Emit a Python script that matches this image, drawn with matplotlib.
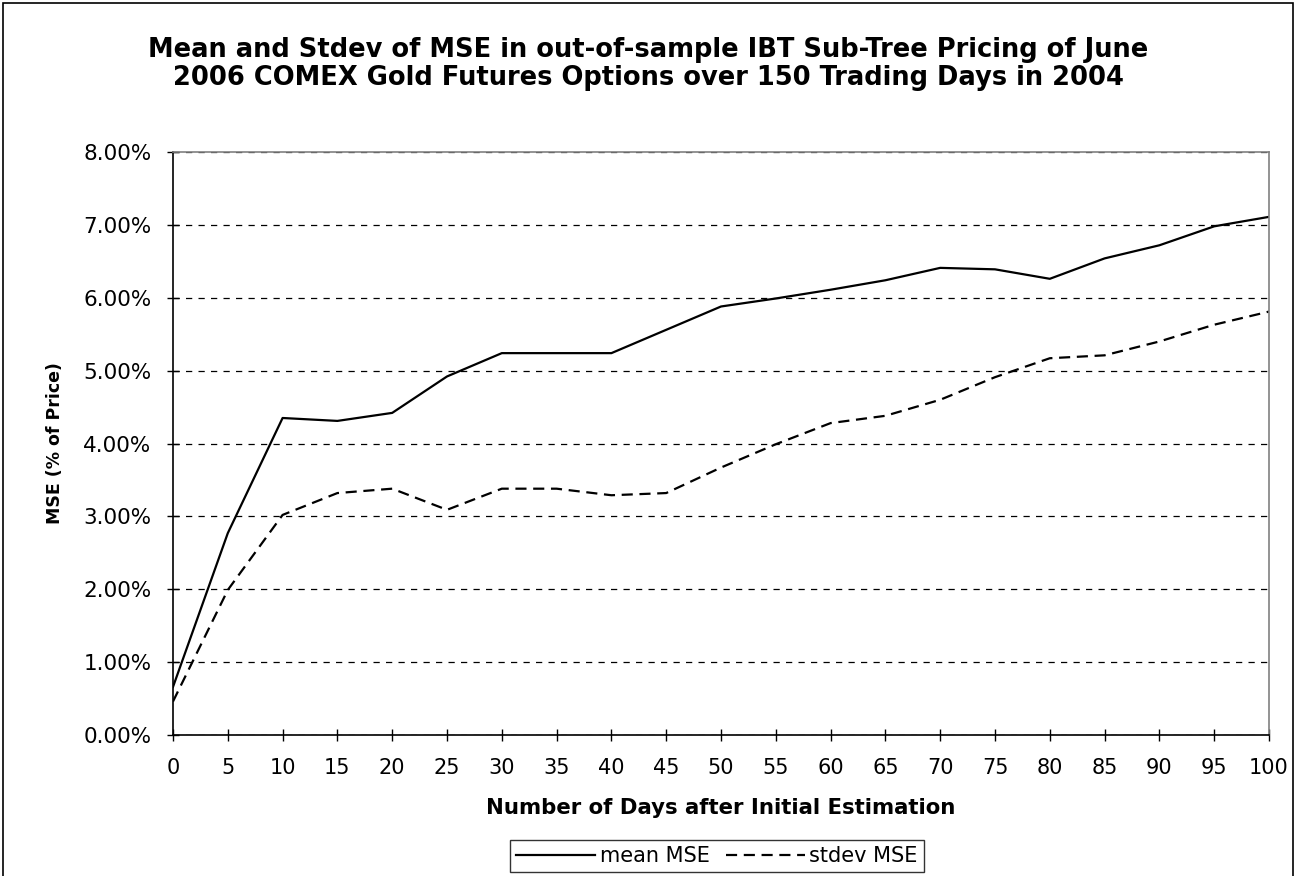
import matplotlib
matplotlib.use("Agg")
import matplotlib.pyplot as plt
from matplotlib.ticker import FuncFormatter, FixedLocator
from matplotlib.patches import Rectangle

plt.rcParams['font.family'] = ['DejaVu Sans']

days = [0, 5, 10, 15, 20, 25, 30, 35, 40, 45, 50, 55, 60, 65, 70, 75, 80, 85, 90, 95, 100]
mean_mse = [0.66, 2.77, 4.35, 4.31, 4.42, 4.92, 5.24, 5.24, 5.24, 5.56, 5.88, 5.99,
            6.11, 6.24, 6.41, 6.39, 6.26, 6.54, 6.72, 6.98, 7.11]
stdev_mse = [0.46, 1.99, 3.02, 3.32, 3.38, 3.09, 3.38, 3.38, 3.29, 3.32, 3.67, 3.99,
             4.28, 4.38, 4.60, 4.91, 5.17, 5.21, 5.40, 5.63, 5.81]
y_ticks = [0, 1, 2, 3, 4, 5, 6, 7, 8]

title_lines = ["Mean and Stdev of MSE in out-of-sample IBT Sub-Tree Pricing of June",
               "2006 COMEX Gold Futures Options over 150 Trading Days in 2004"]

fig = plt.figure(figsize=(12.96, 8.76), dpi=100)
fig.patch.set_facecolor('white')

# figure border
fig.patches.append(Rectangle((2.5/1296, -0.01), 1290.5/1296, 1 - 2.5/876 + 0.01, transform=fig.transFigure,
                             fill=False, edgecolor='black', linewidth=1.2))

ax = fig.add_axes([173/1296, 1 - 735/876, (1269 - 173)/1296, (735 - 152)/876])

ax.plot(days, mean_mse, color='black', linewidth=1.6, label='mean MSE')
ax.plot(days, stdev_mse, color='black', linewidth=1.6, linestyle=(0, (5, 3)), label='stdev MSE')

ax.set_xlim(0, 100)
ax.set_ylim(0, 8)
ax.xaxis.set_major_locator(FixedLocator(days))
ax.yaxis.set_major_locator(FixedLocator(y_ticks))
ax.yaxis.set_major_formatter(FuncFormatter(lambda v, p: f"{v:.2f}%"))

ax.grid(axis='y', color='black', linestyle=(0, (5, 5)), linewidth=0.9)
ax.set_axisbelow(True)

for s in ['top', 'right']:
    ax.spines[s].set_color('#808080')
    ax.spines[s].set_linewidth(1.2)
for s in ['left', 'bottom']:
    ax.spines[s].set_color('black')
    ax.spines[s].set_linewidth(1.2)

ax.tick_params(axis='both', direction='inout', length=9, width=1, labelsize=15, colors='black')
ax.tick_params(axis='y', pad=11, labelsize=15.5)
ax.tick_params(axis='x', pad=12)

ax.set_xlabel("Number of Days after Initial Estimation", fontsize=15.3, fontweight='bold')
ax.xaxis.set_label_coords(0.5, -(808 - 735) / (735 - 152), transform=ax.transAxes)
ax.xaxis.label.set_va('center')
ax.set_ylabel("MSE (% of Price)", fontsize=12.5, fontweight='bold', labelpad=14)

fig.text(0.5, 1 - 50/876, title_lines[0], ha='center', va='center', fontsize=18.5, fontweight='bold')
fig.text(0.5, 1 - 78/876, title_lines[1], ha='center', va='center', fontsize=18.5, fontweight='bold')

leg = ax.legend(loc='center', bbox_to_anchor=(717/1296, 1 - 856/876), bbox_transform=fig.transFigure,
                ncol=2, frameon=True, fancybox=False, edgecolor='black', fontsize=15,
                handlelength=3.8, handletextpad=0.2, columnspacing=0.8, borderpad=0.3,
                borderaxespad=0)
leg.get_frame().set_linewidth(1.0)

fig.savefig("out.png", dpi=100)
